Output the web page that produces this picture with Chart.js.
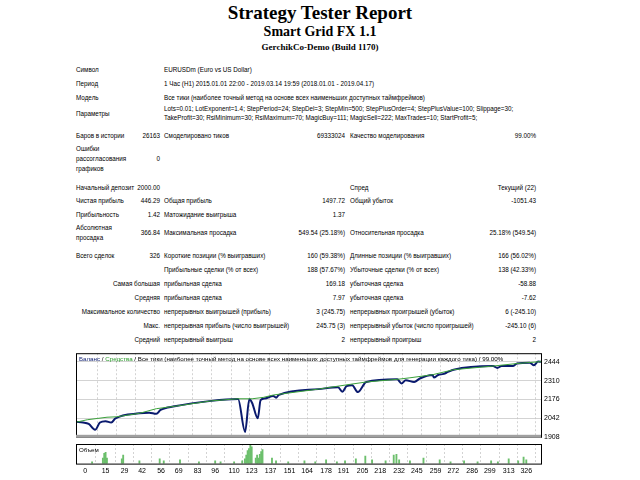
<!DOCTYPE html>
<html>
<head>
<meta charset="utf-8">
<script src="https://cdn.jsdelivr.net/npm/chart.js@4.4.0/dist/chart.umd.min.js"></script>
<style>
  body { margin: 0; width: 640px; height: 480px; background: #fff; position: relative; overflow: hidden;
         font-family: "Liberation Sans", Arial, sans-serif; font-size: 6.3px; color: #000; }
  .t { position: absolute; white-space: nowrap; line-height: 9px; }
  h1, h2, h3 { position: absolute; left: 0; width: 640px; margin: 0; text-align: center;
               font-family: "Liberation Serif", serif; font-weight: bold; }
  #main { position: absolute; left: 76px; top: 346px; width: 492px; height: 98px; }
  #vol { position: absolute; left: 76px; top: 444px; width: 492px; height: 34px; }
</style>
</head>
<body>
<h1 style="top:2px;font-size:19px;">Strategy Tester Report</h1>
<h2 style="top:24px;font-size:14px;">Smart Grid FX 1.1</h2>
<h3 style="top:42px;font-size:9px;">GerchikCo-Demo (Build 1170)</h3>
<div id="report"></div>
<div id="main"><canvas id="mainChart"></canvas></div>
<div id="vol"><canvas id="volChart"></canvas></div>
<script>
"use strict";

// trade numbers on the x axis
const xTicks = [0, 15, 29, 42, 56, 69, 83, 96, 110, 123, 137, 151, 164, 178, 191, 205, 218, 232, 245, 259, 272, 286, 299, 313, 326];
const yTicks = [1908, 2042, 2176, 2310, 2444];

// balance (smooth) and equity (with drawdowns)
const balanceTrades = [0, 8, 15, 22, 29, 45, 57, 70, 96, 115, 125, 133, 140, 172, 195, 206, 228, 237, 253, 268, 296, 313, 330];
const balanceValues = [2012, 2030, 2039, 2048, 2051, 2076, 2109, 2126, 2165, 2180, 2180, 2190, 2207, 2249, 2284, 2300, 2319, 2330, 2352, 2388, 2414, 2432, 2446];
const equityTrades = [0, 5, 9, 13.5, 17, 21, 25, 28, 45, 52, 57, 60, 70, 96, 115, 120, 123, 125, 129, 131, 134, 140, 142, 144, 172, 186, 189, 192, 196, 200, 206, 228, 231, 234, 240, 244, 253, 254, 257, 261, 264, 268, 296, 299, 302, 310, 313, 322, 325, 328, 330];
const equityValues = [2014, 2010, 2000, 1958, 2010, 2020, 2010, 2040, 2076, 2080, 2072, 2100, 2126, 2165, 2178, 1943, 2176, 2150, 2040, 2170, 2182, 2200, 2188, 2208, 2249, 2262, 2230, 2270, 2276, 2228, 2300, 2319, 2290, 2312, 2300, 2325, 2350, 2332, 2350, 2358, 2372, 2388, 2414, 2400, 2414, 2414, 2432, 2438, 2420, 2446, 2444];

// traded volume bars
const volTrades = [5, 13, 14, 15, 16, 27, 28, 40, 55, 58, 70, 84, 96, 100, 110, 116, 118, 119, 120, 121, 122, 123, 126, 127, 128, 129, 130, 131, 138, 141, 150, 162, 170, 178, 186, 192, 200, 207, 212, 222, 228, 230, 232, 240, 250, 262, 270, 280, 290, 300, 305, 313, 320, 324, 326];
const volValues = [0.1, 0.3, 0.55, 0.6, 0.3, 0.25, 0.45, 0.15, 0.25, 0.15, 0.2, 0.1, 0.15, 0.1, 0.1, 0.15, 0.25, 0.45, 0.7, 0.8, 1.0, 0.9, 0.3, 0.45, 0.3, 0.5, 0.65, 0.75, 0.3, 0.15, 0.1, 0.15, 0.1, 0.2, 0.1, 0.15, 0.25, 0.4, 0.2, 0.15, 0.45, 0.5, 0.2, 0.15, 0.3, 0.2, 0.1, 0.15, 0.1, 0.15, 0.1, 0.25, 0.15, 0.35, 0.2];

// report rows: [x, y, text, align]  (align "r" = right edge at x)
const reportText = [
  [76, 65, "Символ"], [164, 65, "EURUSDm (Euro vs US Dollar)"],
  [76, 79, "Период"], [164, 79, "1 Час (H1) 2015.01.01 22:00 - 2019.03.14 19:59 (2018.01.01 - 2019.04.17)"],
  [76, 93, "Модель"], [164, 93, "Все тики (наиболее точный метод на основе всех наименьших доступных таймфреймов)"],
  [76, 109, "Параметры"],
  [164, 104, "Lots=0.01; LotExponent=1.4; StepPeriod=24; StepDel=3; StepMin=500; StepPlusOrder=4; StepPlusValue=100; Slippage=30;"],
  [164, 113, "TakeProfit=30; RsiMinimum=30; RsiMaximum=70; MagicBuy=111; MagicSell=222; MaxTrades=10; StartProfit=5;"],
  [76, 131, "Баров в истории"], [160, 131, "26163", "r"], [164, 131, "Смоделировано тиков"], [345, 131, "69333024", "r"],
  [350, 131, "Качество моделирования"], [536, 131, "99.00%", "r"],
  [76, 144, "Ошибки"], [76, 154, "рассогласования"], [76, 164, "графиков"], [160, 154, "0", "r"],
  [76, 183, "Начальный депозит"], [160, 183, "2000.00", "r"], [350, 183, "Спред"], [536, 183, "Текущий (22)", "r"],
  [76, 196, "Чистая прибыль"], [160, 196, "446.29", "r"], [164, 196, "Общая прибыль"], [345, 196, "1497.72", "r"],
  [350, 196, "Общий убыток"], [536, 196, "-1051.43", "r"],
  [76, 210, "Прибыльность"], [160, 210, "1.42", "r"], [164, 210, "Матожидание выигрыша"], [345, 210, "1.37", "r"],
  [76, 223, "Абсолютная"], [76, 233, "просадка"], [160, 228, "366.84", "r"], [164, 228, "Максимальная просадка"],
  [345, 228, "549.54 (25.18%)", "r"], [350, 228, "Относительная просадка"], [536, 228, "25.18% (549.54)", "r"],
  [76, 251, "Всего сделок"], [160, 251, "326", "r"], [164, 251, "Короткие позиции (% выигравших)"], [345, 251, "160 (59.38%)", "r"],
  [350, 251, "Длинные позиции (% выигравших)"], [536, 251, "166 (56.02%)", "r"],
  [164, 265, "Прибыльные сделки (% от всех)"], [345, 265, "188 (57.67%)", "r"],
  [350, 265, "Убыточные сделки (% от всех)"], [536, 265, "138 (42.33%)", "r"],
  [160, 279, "Самая большая", "r"], [164, 279, "прибыльная сделка"], [345, 279, "169.18", "r"],
  [350, 279, "убыточная сделка"], [536, 279, "-58.88", "r"],
  [160, 293, "Средняя", "r"], [164, 293, "прибыльная сделка"], [345, 293, "7.97", "r"],
  [350, 293, "убыточная сделка"], [536, 293, "-7.62", "r"],
  [160, 307, "Максимальное количество", "r"], [164, 307, "непрерывных выигрышей (прибыль)"], [345, 307, "3 (245.75)", "r"],
  [350, 307, "непрерывных проигрышей (убыток)"], [536, 307, "6 (-245.10)", "r"],
  [160, 321, "Макс.", "r"], [164, 321, "непрерывная прибыль (число выигрышей)"], [345, 321, "245.75 (3)", "r"],
  [350, 321, "непрерывный убыток (число проигрышей)"], [536, 321, "-245.10 (6)", "r"],
  [160, 335, "Средний", "r"], [164, 335, "непрерывный выигрыш"], [345, 335, "2", "r"],
  [350, 335, "непрерывный проигрыш"], [536, 335, "2", "r"],
];

function buildReport() {
  const report = document.querySelector("#report");
  reportText.forEach(([x, y, text, align]) => {
    const span = document.createElement("div");
    span.className = "t";
    span.textContent = text;
    span.style.top = y + "px";
    if (align === "r") {
      span.style.right = (640 - x) + "px";
    } else {
      span.style.left = x + "px";
    }
    report.appendChild(span);
  });
}

function toPoints(xs, ys) {
  return xs.map((x, i) => ({ x: x, y: ys[i] }));
}

// frame around the plot area plus the caption line
const framePlugin = {
  id: "frame",
  afterDraw(chart, args, opts) {
    const { ctx, chartArea: a } = chart;
    ctx.save();
    ctx.strokeStyle = "#000";
    ctx.lineWidth = 1;
    ctx.strokeRect(a.left + 0.5, a.top + 0.5, a.right - a.left, a.bottom - a.top);
    if (opts.bottomBar) {
      ctx.fillStyle = "#a0a0a0";
      ctx.fillRect(a.left, a.bottom - 2, a.right - a.left, 3);
    }
    ctx.font = "6.2px 'Liberation Sans'";
    ctx.textBaseline = "top";
    let x = a.left + 3;
    opts.caption.forEach(([text, color]) => {
      ctx.fillStyle = color;
      ctx.fillText(text, x, a.top + 3);
      x += ctx.measureText(text).width;
    });
    ctx.restore();
  },
};

const dashedGrid = {
  color: "#c8c8c8",
  lineWidth: 0.8,
  drawTicks: false,
};

function xAxis(showLabels) {
  return {
    type: "linear",
    min: 0,
    max: 330,
    afterBuildTicks: (axis) => { axis.ticks = xTicks.map((v) => ({ value: v })); },
    grid: dashedGrid,
    border: { display: false, dash: [2, 2] },
    ticks: {
      display: showLabels,
      autoSkip: false,
      maxRotation: 0,
      padding: 3,
      color: "#000",
      font: { family: "Liberation Sans", size: 7 },
    },
  };
}

function drawMain() {
  const ctx = document.querySelector("#mainChart").getContext("2d");
  const configuration = {
    type: "line",
    data: {
      datasets: [
        {
          data: toPoints(balanceTrades, balanceValues),
          borderColor: "#3aa03a",
          borderWidth: 1,
          pointRadius: 0,
          tension: 0,
        },
        {
          data: toPoints(equityTrades, equityValues),
          borderColor: "#0a1a6e",
          borderWidth: 2,
          pointRadius: 0,
          cubicInterpolationMode: "monotone",
        },
      ],
    },
    options: {
      responsive: true,
      maintainAspectRatio: false,
      animation: false,
      layout: { padding: 0 },
      plugins: {
        legend: { display: false },
        tooltip: { enabled: false },
        frame: {
          bottomBar: true,
          caption: [
            ["Баланс", "#0a1a6e"], [" / ", "#000"], ["Средства", "#2a9a2a"],
            [" / Все тики (наиболее точный метод на основе всех наименьших доступных таймфреймов для генерации каждого тика) / 99.00%", "#000"],
          ],
        },
      },
      scales: {
        x: xAxis(false),
        y: {
          position: "right",
          min: 1908,
          max: 2506,
          afterBuildTicks: (axis) => { axis.ticks = yTicks.map((v) => ({ value: v })); },
          afterFit: (axis) => { axis.width = 27; },
          grid: dashedGrid,
          border: { display: false },
          ticks: {
            padding: 3,
            color: "#000",
            font: { family: "Liberation Sans", size: 7 },
            callback: (v) => String(v),
          },
        },
      },
    },
    plugins: [framePlugin],
  };
  new Chart(ctx, configuration);
}

function drawVolume() {
  const ctx = document.querySelector("#volChart").getContext("2d");
  const configuration = {
    type: "bar",
    data: {
      datasets: [
        {
          data: toPoints(volTrades, volValues),
          backgroundColor: "#6cbf6c",
          barThickness: 1.2,
        },
      ],
    },
    options: {
      responsive: true,
      maintainAspectRatio: false,
      animation: false,
      layout: { padding: 0 },
      plugins: {
        legend: { display: false },
        tooltip: { enabled: false },
        frame: { bottomBar: false, caption: [["Объем", "#000"]] },
      },
      scales: {
        x: xAxis(true),
        y: {
          position: "right",
          min: 0,
          max: 1.05,
          afterFit: (axis) => { axis.width = 27; },
          grid: { display: false },
          border: { display: false },
          ticks: { display: false },
        },
      },
    },
    plugins: [framePlugin],
  };
  new Chart(ctx, configuration);
}

buildReport();
drawMain();
drawVolume();
</script>
</body>
</html>
